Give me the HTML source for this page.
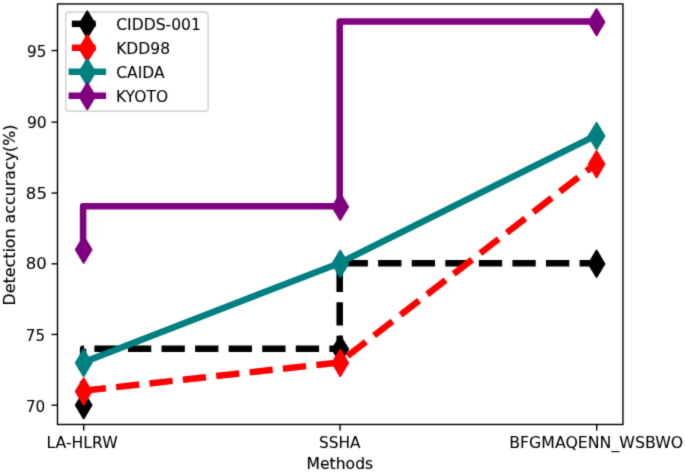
<!DOCTYPE html>
<html><head><meta charset="utf-8"><title>Detection accuracy</title>
<style>html,body{margin:0;padding:0;background:#fff}svg{display:block}</style></head>
<body>
<svg width="685" height="472" viewBox="0 0 685 472" font-family="'DejaVu Sans', 'Liberation Sans', sans-serif" font-size="15.8px">
<defs><filter id="soft" x="0" y="0" width="685" height="472" filterUnits="userSpaceOnUse" color-interpolation-filters="sRGB"><feConvolveMatrix order="3" kernelMatrix="0.01917 0.10012 0.01917 0.10012 0.52283 0.10012 0.01917 0.10012 0.01917" edgeMode="duplicate" preserveAlpha="true"/></filter></defs>
<defs><clipPath id="ax"><rect x="57.5" y="3.94" width="565.45" height="420.56"/></clipPath></defs>
<g filter="url(#soft)">
<rect width="685" height="472" fill="#fff"/>
<g clip-path="url(#ax)">
<path d="M83.10 404.56L83.10 348.70L339.70 348.70L339.70 263.20L596.00 263.20" fill="none" stroke="#000000" stroke-width="6.5" stroke-dasharray="23.3 10.27" stroke-linejoin="round" stroke-linecap="butt"/>
<path d="M83.07 391.20L84.27 391.20L92.42 404.80L92.42 405.60L84.27 419.20L83.07 419.20L74.92 405.60L74.92 404.80Z" fill="#000000"/>
<path d="M339.65 335.25L340.85 335.25L349.00 348.85L349.00 349.65L340.85 363.25L339.65 363.25L331.50 349.65L331.50 348.85Z" fill="#000000"/>
<path d="M595.95 249.80L597.15 249.80L605.30 263.40L605.30 264.20L597.15 277.80L595.95 277.80L587.80 264.20L587.80 263.40Z" fill="#000000"/>
<path d="M82.75 390.82L339.25 362.45L595.75 163.87" fill="none" stroke="#ff0000" stroke-width="6.5" stroke-dasharray="23.3 10.27" stroke-linejoin="round" stroke-linecap="butt"/>
<path d="M83.07 377.40L84.27 377.40L92.42 391.00L92.42 391.80L84.27 405.40L83.07 405.40L74.92 391.80L74.92 391.00Z" fill="#ff0000"/>
<path d="M339.65 348.95L340.85 348.95L349.00 362.55L349.00 363.35L340.85 376.95L339.65 376.95L331.50 363.35L331.50 362.55Z" fill="#ff0000"/>
<path d="M595.95 150.20L597.15 150.20L605.30 163.80L605.30 164.60L597.15 178.20L595.95 178.20L587.80 164.60L587.80 163.80Z" fill="#ff0000"/>
<path d="M82.75 362.45L339.25 263.16L595.75 135.50" fill="none" stroke="#008080" stroke-width="6.5" stroke-linejoin="round" stroke-linecap="square"/>
<path d="M83.07 348.95L84.27 348.95L92.42 362.55L92.42 363.35L84.27 376.95L83.07 376.95L74.92 363.35L74.92 362.55Z" fill="#008080"/>
<path d="M339.65 249.80L340.85 249.80L349.00 263.40L349.00 264.20L340.85 277.80L339.65 277.80L331.50 264.20L331.50 263.40Z" fill="#008080"/>
<path d="M595.95 122.00L597.15 122.00L605.30 135.60L605.30 136.40L597.15 150.00L595.95 150.00L587.80 136.40L587.80 135.60Z" fill="#008080"/>
<path d="M83.10 249.13L83.10 206.30L339.70 206.30L339.70 21.60L596.00 21.60" fill="none" stroke="#800080" stroke-width="6.5" stroke-linejoin="round" stroke-linecap="square"/>
<path d="M83.07 235.70L84.27 235.70L92.42 249.30L92.42 250.10L84.27 263.70L83.07 263.70L74.92 250.10L74.92 249.30Z" fill="#800080"/>
<path d="M339.65 192.85L340.85 192.85L349.00 206.45L349.00 207.25L340.85 220.85L339.65 220.85L331.50 207.25L331.50 206.45Z" fill="#800080"/>
<path d="M595.95 8.20L597.15 8.20L605.30 21.80L605.30 22.60L597.15 36.20L595.95 36.20L587.80 22.60L587.80 21.80Z" fill="#800080"/>
</g>
<rect x="57.5" y="3.94" width="565.45" height="420.56" fill="none" stroke="#000" stroke-width="1.4" stroke-linejoin="miter"/>
<g fill="#000">
<line x1="51.50" y1="405.20" x2="57.5" y2="405.20" stroke="#000" stroke-width="1.4"/>
<text x="25.93" y="412.00" stroke="#000" stroke-width="0.05" textLength="19.31" lengthAdjust="spacingAndGlyphs">70</text>
<line x1="51.50" y1="334.43" x2="57.5" y2="334.43" stroke="#000" stroke-width="1.4"/>
<text x="25.87" y="341.00" stroke="#000" stroke-width="0.05" textLength="19.13" lengthAdjust="spacingAndGlyphs">75</text>
<line x1="51.50" y1="263.80" x2="57.5" y2="263.80" stroke="#000" stroke-width="1.4"/>
<text x="25.87" y="269.00" stroke="#000" stroke-width="0.05" textLength="21.02" lengthAdjust="spacingAndGlyphs">80</text>
<line x1="51.50" y1="193.03" x2="57.5" y2="193.03" stroke="#000" stroke-width="1.4"/>
<text x="25.88" y="199.00" stroke="#000" stroke-width="0.05" textLength="21.01" lengthAdjust="spacingAndGlyphs">85</text>
<line x1="51.50" y1="122.17" x2="57.5" y2="122.17" stroke="#000" stroke-width="1.4"/>
<text x="26.94" y="128.00" stroke="#000" stroke-width="0.05" textLength="19.86" lengthAdjust="spacingAndGlyphs">90</text>
<line x1="51.50" y1="50.55" x2="57.5" y2="50.55" stroke="#000" stroke-width="1.4"/>
<text x="27.05" y="57.00" stroke="#000" stroke-width="0.05" textLength="19.38" lengthAdjust="spacingAndGlyphs">95</text>
<line x1="83.70" y1="424.5" x2="83.70" y2="430.50" stroke="#000" stroke-width="1.4"/>
<text x="46.49" y="448.00" stroke="#000" stroke-width="0.05" textLength="71.21" lengthAdjust="spacingAndGlyphs">LA-HLRW</text>
<line x1="340.10" y1="424.5" x2="340.10" y2="430.50" stroke="#000" stroke-width="1.4"/>
<text x="319.01" y="448.00" stroke="#000" stroke-width="0.05" textLength="41.59" lengthAdjust="spacingAndGlyphs">SSHA</text>
<line x1="596.70" y1="424.5" x2="596.70" y2="430.50" stroke="#000" stroke-width="1.4"/>
<text x="509.14" y="448.00" stroke="#000" stroke-width="0.05" textLength="174.11" lengthAdjust="spacingAndGlyphs">BFGMAQENN_WSBWO</text>
<text x="306.59" y="469.00" stroke="#000" stroke-width="0.15" textLength="66.58" lengthAdjust="spacingAndGlyphs">Methods</text>
<text transform="translate(14.52 305.42) rotate(-90)" stroke="#000" stroke-width="0.15" textLength="180.93" lengthAdjust="spacingAndGlyphs">Detection accuracy(%)</text>
</g>
<rect x="65.75" y="12.1" width="142.40" height="99.05" rx="3.2" ry="3.2" fill="#fff" fill-opacity="0.8" stroke="#cccccc" stroke-opacity="0.8" stroke-width="1.6"/>
<path d="M71.85 23.85L102.8 23.85" stroke="#000000" stroke-width="6.5" stroke-dasharray="23.8 20" stroke-linecap="butt" fill="none"/>
<path d="M86.65 10.40L87.85 10.40L96.00 24.00L96.00 24.80L87.85 38.40L86.65 38.40L78.50 24.80L78.50 24.00Z" fill="#000000"/>
<path d="M71.85 47.8L102.8 47.8" stroke="#ff0000" stroke-width="6.5" stroke-dasharray="23.8 20" stroke-linecap="butt" fill="none"/>
<path d="M86.65 34.35L87.85 34.35L96.00 47.95L96.00 48.75L87.85 62.35L86.65 62.35L78.50 48.75L78.50 47.95Z" fill="#ff0000"/>
<path d="M71.85 71.7L102.8 71.7" stroke="#008080" stroke-width="6.5" stroke-linecap="square" fill="none"/>
<path d="M86.65 58.25L87.85 58.25L96.00 71.85L96.00 72.65L87.85 86.25L86.65 86.25L78.50 72.65L78.50 71.85Z" fill="#008080"/>
<path d="M71.85 95.7L102.8 95.7" stroke="#800080" stroke-width="6.5" stroke-linecap="square" fill="none"/>
<path d="M86.65 82.25L87.85 82.25L96.00 95.85L96.00 96.65L87.85 110.25L86.65 110.25L78.50 96.65L78.50 95.85Z" fill="#800080"/>
<g fill="#000">
<text x="116.15" y="30.00" stroke="#000" stroke-width="0.05" textLength="84.83" lengthAdjust="spacingAndGlyphs">CIDDS-001</text>
<text x="116.17" y="54.00" stroke="#000" stroke-width="0.05" textLength="53.89" lengthAdjust="spacingAndGlyphs">KDD98</text>
<text x="116.18" y="78.00" stroke="#000" stroke-width="0.05" textLength="48.42" lengthAdjust="spacingAndGlyphs">CAIDA</text>
<text x="115.99" y="102.00" stroke="#000" stroke-width="0.05" textLength="52.17" lengthAdjust="spacingAndGlyphs">KYOTO</text>
</g>
</g>
</svg>
</body></html>
